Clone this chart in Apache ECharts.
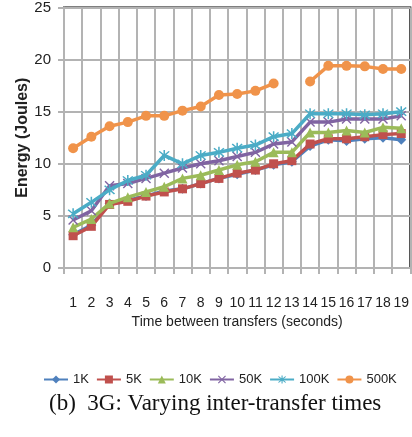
<!DOCTYPE html>
<html>
<head>
<meta charset="utf-8">
<script src="https://cdn.jsdelivr.net/npm/echarts@6/dist/echarts.min.js"></script>
<style>
html,body{margin:0;padding:0;background:#fff;}
#c{width:412px;height:437px;}
</style>
</head>
<body>
<div id="c"></div>
<script>
var categories = ['1','2','3','4','5','6','7','8','9','10','11','12','13','14','15','16','17','18','19'];
var yTicks = [0, 5, 10, 15, 20, 25];
var k1   = [3.2,4.1,6.2,6.5,6.9,7.4,7.6,8.1,8.6,9.0,9.4,9.9,10.2,11.7,12.3,12.2,12.4,12.5,12.3];
var k5   = [3.1,4.0,6.1,6.4,6.9,7.3,7.6,8.1,8.6,9.1,9.4,10.0,10.3,11.9,12.4,12.4,12.6,12.8,12.9];
var k10  = [3.9,4.7,6.2,6.8,7.3,7.8,8.6,8.9,9.4,9.9,10.2,11.1,11.1,13.0,13.0,13.2,13.0,13.5,13.4];
var k50  = [4.6,5.5,7.9,8.1,8.6,9.1,9.6,10.0,10.3,10.7,11.1,11.9,12.1,14.0,14.0,14.3,14.3,14.3,14.6];
var k100 = [5.2,6.3,7.5,8.4,8.9,10.8,10.0,10.8,11.1,11.5,11.8,12.6,12.9,14.8,14.8,14.8,14.7,14.8,15.0];
var k500 = [11.5,12.6,13.6,14.0,14.6,14.6,15.1,15.5,16.6,16.7,17.0,17.7,null,17.9,19.4,19.4,19.35,19.1,19.1];
var seriesNames = ['1K','5K','10K','50K','100K','500K'];

var colors = ['#4F81BD','#C0504D','#9BBB59','#8064A2','#4BACC6','#F0934A'];
var xSym = 'path://M0,1 L1,0 L5,4 L9,0 L10,1 L6,5 L10,9 L9,10 L5,6 L1,10 L0,9 L4,5 Z';
var starSym = 'path://M0,1 L1,0 L5,4 L9,0 L10,1 L6,5 L10,9 L9,10 L5,6 L1,10 L0,9 L4,5 Z M4.3,-1 L5.7,-1 L5.7,11 L4.3,11 Z';
var symbols = ['diamond','rect','triangle', xSym, starSym, 'circle'];
var sizes = [10, 9, 10, 10, 11, 10];
var datas = [k1,k5,k10,k50,k100,k500];

var chart = echarts.init(document.getElementById('c'));
var font = 'Liberation Sans, Arial, sans-serif';
chart.setOption({
  animation: false,
  backgroundColor: '#fff',
  color: colors,
  title: {
    text: '(b)  3G: Varying inter-transfer times',
    left: 44, top: 387,
    textStyle: {fontFamily: 'Liberation Serif, Times New Roman, serif', fontSize: 23, fontWeight: 'normal', color: '#111'}
  },
  grid: {left: 64, top: 7, right: 1, bottom: 169, show: true, borderColor: '#000', borderWidth: 2, backgroundColor: 'transparent'},
  legend: {
    left: 38, top: 368, width: 374,
    itemWidth: 24, itemHeight: 10, itemGap: 7,
    textStyle: {fontFamily: font, fontSize: 13, color: '#222'},
    data: seriesNames
  },
  xAxis: {
    type: 'category',
    data: categories,
    boundaryGap: true,
    name: 'Time between transfers (seconds)',
    nameLocation: 'middle',
    nameGap: 47,
    nameMoveOverlap: false,
    nameTextStyle: {fontFamily: font, fontSize: 14, color: '#222'},
    axisLine: {show: true, lineStyle: {color: '#b3b3b3', width: 2}},
    axisTick: {show: true, length: 6, inside: false, lineStyle: {color: '#b3b3b3', width: 2}},
    axisLabel: {interval: 0, margin: 28, fontFamily: font, fontSize: 14, color: '#222'},
    splitLine: {show: true, interval: 0, lineStyle: {color: '#b3b3b3', width: 2}}
  },
  yAxis: {
    type: 'value',
    min: 0, max: 25, interval: 5,
    name: 'Energy (Joules)',
    nameLocation: 'middle',
    nameGap: 33,
    nameMoveOverlap: false,
    nameTextStyle: {fontFamily: font, fontSize: 16, fontWeight: 'bold', color: '#222'},
    axisLine: {show: true, lineStyle: {color: '#b3b3b3', width: 2}},
    axisTick: {show: true, length: 6, lineStyle: {color: '#b3b3b3', width: 2}},
    axisLabel: {margin: 13, fontFamily: font, fontSize: 15, color: '#222',
      formatter: function (v) { return yTicks.indexOf(v) >= 0 ? String(v) : ''; }},
    splitLine: {show: true, lineStyle: {color: '#b3b3b3', width: 2}}
  },
  series: seriesNames.map(function (n, i) {
    return {
      name: n,
      type: 'line',
      data: datas[i],
      connectNulls: false,
      symbol: symbols[i],
      symbolSize: sizes[i],
      showAllSymbol: true,
      lineStyle: {width: 3.5, color: colors[i]},
      itemStyle: {color: colors[i], borderWidth: 0},
      z: 2 + i
    };
  })
});
</script>
</body>
</html>
